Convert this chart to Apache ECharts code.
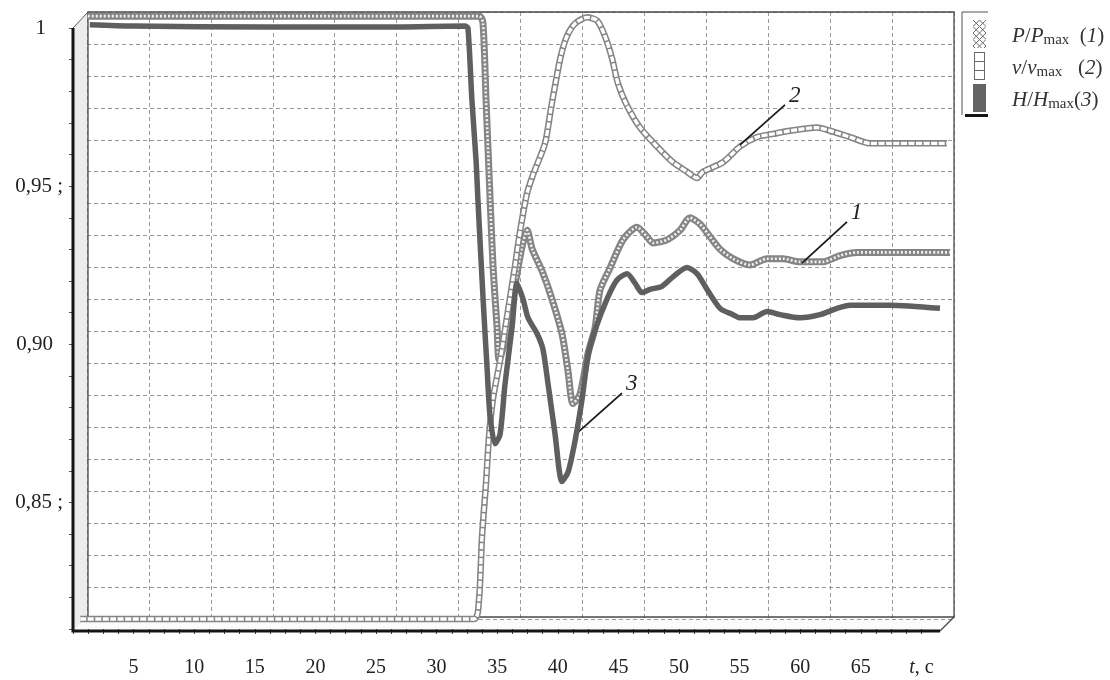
<!DOCTYPE html>
<html><head><meta charset="utf-8">
<script src="https://cdn.jsdelivr.net/npm/echarts@6/dist/echarts.min.js"></script>
<style>html,body{margin:0;padding:0;background:#fff}#c{width:1110px;height:680px}</style>
</head><body><div id="c"></div>
<script>
// ---------- data ----------
// P/Pmax (1) – back ribbon
const timeP = [0.2, 10, 20, 32.5, 32.8, 33.06, 33.39, 33.64, 33.97, 34.13, 34.63, 35.46, 36.04, 36.45, 36.87, 37.69, 38.51, 39.33, 39.83, 40.23, 40.81, 41.47, 42.05, 42.46, 43.28, 44.36, 45.51, 46.34, 46.83, 47.99, 49.06, 49.88, 50.71, 51.53, 52.36, 53.43, 54.83, 56.23, 57.56, 58.96, 60.86, 62.26, 63.66, 64.98, 71.34];
const valP  = [0.999, 0.999, 0.999, 0.999, 0.997, 0.972, 0.941, 0.919, 0.900, 0.890, 0.896, 0.914, 0.926, 0.931, 0.925, 0.918, 0.909, 0.898, 0.886, 0.876, 0.879, 0.892, 0.900, 0.912, 0.919, 0.928, 0.932, 0.929, 0.927, 0.928, 0.931, 0.935, 0.933, 0.929, 0.925, 0.922, 0.920, 0.922, 0.922, 0.921, 0.921, 0.923, 0.924, 0.924, 0.924];
// v/vmax (2) – middle ribbon (lies on the floor before the event)
const timeV = [0.2, 10, 20, 32.68, 33.09, 33.34, 33.67, 33.92, 34.25, 34.83, 35.49, 36.06, 36.48, 37.05, 37.55, 38.54, 39.03, 39.45, 39.86, 40.35, 41.01, 42.01, 42.83, 43.49, 44.07, 44.56, 45.3, 46.38, 47.78, 49.1, 50.25, 51.08, 51.58, 53.23, 54.63, 56.04, 57.36, 58.76, 60.98, 62.06, 63.71, 65.36, 67.01, 71.7];
const valV  = [0.81, 0.81, 0.81, 0.81, 0.816, 0.836, 0.853, 0.868, 0.880, 0.892, 0.908, 0.922, 0.933, 0.945, 0.951, 0.961, 0.972, 0.981, 0.989, 0.995, 0.999, 1.001, 1.0, 0.995, 0.988, 0.980, 0.973, 0.966, 0.960, 0.955, 0.952, 0.950, 0.952, 0.955, 0.960, 0.963, 0.964, 0.965, 0.966, 0.965, 0.963, 0.961, 0.961, 0.961];
// H/Hmax (3) – front ribbon
const timeH = [1.6, 5.2, 16, 26.8, 32.56, 32.8, 33.13, 33.47, 33.63, 34.05, 34.38, 34.62, 35.04, 35.45, 35.86, 36.44, 36.85, 37.34, 37.76, 38.5, 38.99, 39.41, 39.99, 40.56, 41.06, 41.64, 42.21, 42.71, 43.28, 44.28, 45.1, 45.93, 46.59, 47.16, 47.82, 48.81, 49.72, 50.87, 51.7, 52.53, 53.6, 54.67, 55.25, 56.32, 57.48, 58.55, 60.2, 61.85, 63.25, 64.33, 67.62, 71.75];
const valH  = [1.001, 1.0006, 1.0003, 1.0003, 1.0006, 1.0, 0.977, 0.958, 0.945, 0.914, 0.892, 0.877, 0.868, 0.871, 0.887, 0.905, 0.919, 0.914, 0.908, 0.903, 0.898, 0.887, 0.871, 0.856, 0.859, 0.869, 0.882, 0.896, 0.904, 0.914, 0.920, 0.922, 0.919, 0.916, 0.917, 0.918, 0.921, 0.924, 0.922, 0.917, 0.911, 0.909, 0.908, 0.908, 0.910, 0.909, 0.908, 0.909, 0.911, 0.912, 0.912, 0.911];
// leader lines for the curve numbers: [t1, v1, t2, v2]
const leaderP = [59.12, 0.9206, 62.84, 0.9337];
const leaderV = [54.63, 0.9605, 58.34, 0.9732];
const leaderH = [41.80, 0.8714, 45.51, 0.8841];
// tick labels
const xLabelValues = [5, 10, 15, 20, 25, 30, 35, 40, 45, 50, 55, 60, 65];
const xLabels = ['5', '10', '15', '20', '25', '30', '35', '40', '45', '50', '55', '60', '65'];
const yLabelValues = [1, 0.95, 0.90, 0.85];
const yLabels = ['1', '0,95 ;', '0,90', '0,85 ;'];

// ---------- layout ----------
const FR = {l: 73, t: 28, r: 940, b: 631};   // front frame
const BK = {l: 88, t: 12, r: 954, b: 617};   // back wall
const SX = 12.12, SY = 3150;                  // px per second, px per unit
function depthGrid(d) {
  const x0 = 70.4 + 15 * d, y1 = 28 - 15 * d;
  return {left: x0, width: 72 * SX, top: y1 - 0.003 * SY, height: 0.203 * SY, outerBoundsMode: 'none'};
}
const zip = (a, b) => a.map((t, i) => [t, b[i]]);
const serif = 'Liberation Serif, Times New Roman, serif';

function icon(kind) {
  const c = document.createElement('canvas'); c.width = 13; c.height = 28;
  const g = c.getContext('2d');
  g.fillStyle = '#fff'; g.fillRect(0, 0, 13, 28);
  g.strokeStyle = '#6a6a6a'; g.lineWidth = 1;
  if (kind === 'P') {
    for (let y = 0; y < 28; y += 6.5) {
      for (let x = 0; x < 13; x += 6.5) {
        g.beginPath(); g.moveTo(x, y); g.lineTo(x + 6.5, y + 6.5);
        g.moveTo(x + 6.5, y); g.lineTo(x, y + 6.5); g.stroke();
      }
    }
  } else if (kind === 'v') {
    g.strokeRect(1.5, 0.5, 10, 27);
    g.beginPath(); g.moveTo(1.5, 9.5); g.lineTo(11.5, 9.5); g.moveTo(1.5, 18.5); g.lineTo(11.5, 18.5); g.stroke();
  } else {
    g.fillStyle = '#646464'; g.fillRect(0, 0, 13, 28);
  }
  return 'image://' + c.toDataURL();
}

function leader(arr, text) {
  return {
    silent: true, symbol: ['none', 'none'], animation: false,
    lineStyle: {color: '#1a1a1a', width: 1.8, type: 'solid'},
    label: {show: true, position: 'end', distance: 13, formatter: text,
            fontFamily: serif, fontStyle: 'italic', fontSize: 23, color: '#222'},
    data: [[{coord: [arr[0], arr[1]]}, {coord: [arr[2], arr[3]]}]]
  };
}

const hidden = {show: false};
const chart = echarts.init(document.getElementById('c'), null, {renderer: 'canvas'});

const frameLine = (pts, w, col, z) => ({type: 'polyline', z: z, silent: true,
  shape: {points: pts}, style: {stroke: col, lineWidth: w, fill: null}});

chart.setOption({
  animation: false,
  backgroundColor: '#fff',
  grid: [
    {left: BK.l - 1, top: BK.t, width: BK.r - BK.l + 1, height: 607, outerBoundsMode: 'none'}, // back wall gridlines
    {left: FR.l, top: FR.t, width: 70 * SX, height: 601, outerBoundsMode: 'none'},              // front axes
    depthGrid(1), depthGrid(0.5), depthGrid(0)
  ],
  xAxis: [
    {gridIndex: 0, type: 'value', min: 0, max: 70, interval: 5,
     axisLine: hidden, axisTick: hidden, axisLabel: hidden,
     splitLine: {show: true, lineStyle: {color: '#9a9a9a', width: 1, type: [4, 3]}}},
    {gridIndex: 1, type: 'value', min: 0, max: 70, interval: 1.25,
     axisLine: hidden, splitLine: hidden,
     axisTick: {show: true, length: 5, lineStyle: {color: '#444', width: 1}},
     axisLabel: {show: true, margin: 29, color: '#222', fontFamily: serif, fontSize: 20,
       formatter: v => {
         if (Math.abs(v - 70) < 1e-6) return '{it|t}{rm|, c}';
         const k = xLabelValues.findIndex(x => Math.abs(x - v) < 1e-6);
         return k < 0 ? '' : '{rm|' + xLabels[k] + '}';
       },
       rich: {it: {fontFamily: serif, fontStyle: 'italic', fontSize: 20, color: '#222'},
              rm: {fontFamily: serif, fontSize: 20, color: '#222'}}}},
    {gridIndex: 2, type: 'value', min: 0, max: 72, show: false},
    {gridIndex: 3, type: 'value', min: 0, max: 72, show: false},
    {gridIndex: 4, type: 'value', min: 0, max: 72, show: false}
  ],
  yAxis: [
    {gridIndex: 0, type: 'value', min: 0.81, max: 1.0, interval: 0.01,
     axisLine: hidden, axisTick: hidden, axisLabel: hidden,
     splitLine: {show: true, lineStyle: {color: '#9a9a9a', width: 1, type: [4, 3]}}},
    {gridIndex: 1, type: 'value', min: 0.81, max: 1.0, interval: 0.01,
     axisLine: hidden, splitLine: hidden,
     axisTick: {show: true, length: 4, lineStyle: {color: '#555', width: 1}},
     axisLabel: {show: true, margin: 10, color: '#222',
       formatter: v => {
         const k = yLabelValues.findIndex(x => Math.abs(x - v) < 1e-6);
         if (k < 0) return '';
         const s = yLabels[k];
         if (s.indexOf(';') >= 0) return '{n|' + s + '}';
         return '{n|' + s + '}' + (s.length === 1 ? '{p1|}' : '{p2|}');
       },
       rich: {n: {fontFamily: serif, fontSize: 21, color: '#222'},
              p1: {width: 17}, p2: {width: 10}}}},
    {gridIndex: 2, type: 'value', min: 0.80, max: 1.003, show: false},
    {gridIndex: 3, type: 'value', min: 0.80, max: 1.003, show: false},
    {gridIndex: 4, type: 'value', min: 0.80, max: 1.003, show: false}
  ],
  legend: {
    show: true, orient: 'vertical', left: 968, top: 15, itemWidth: 13, itemHeight: 28, itemGap: 4,
    selectedMode: false, inactiveColor: '#fff',
    data: [{name: 'P', icon: icon('P')}, {name: 'v', icon: icon('v')}, {name: 'H', icon: icon('H')}],
    formatter: name => {
      if (name === 'P') return '{g|}{i|P}{n|/}{i|P}{s|max}{n|  (}{i|1}{n|)}';
      if (name === 'v') return '{g|}{i|v}{n|/}{i|v}{s|max}{n|   (}{i|2}{n|)}';
      return '{g|}{i|H}{n|/}{i|H}{s|max}{n|(}{i|3}{n|)}';
    },
    textStyle: {
      rich: {
        g: {width: 21},
        i: {fontFamily: serif, fontStyle: 'italic', fontSize: 21, color: '#333', padding: [4, 0, 0, 0]},
        n: {fontFamily: serif, fontSize: 21, color: '#333', padding: [4, 0, 0, 0]},
        s: {fontFamily: serif, fontSize: 15, color: '#333', padding: [12, 0, 0, 0]}
      }
    }
  },
  graphic: [
    {type: 'polygon', z: -5, silent: true, shape: {points: [[FR.l, FR.t], [BK.l, BK.t], [BK.l, BK.b], [FR.l, FR.b]]},
     style: {fill: '#ececec', stroke: null}},
    {type: 'polygon', z: -5, silent: true, shape: {points: [[FR.l, FR.b], [BK.l, BK.b], [BK.r, BK.b], [FR.r, FR.b]]},
     style: {fill: '#fbfbfb', stroke: null}},
    frameLine([[BK.l, BK.b], [BK.l, BK.t], [BK.r, BK.t], [BK.r, BK.b], [BK.l, BK.b]], 1.3, '#4a4a4a', 1),
    frameLine([[FR.l, FR.t], [BK.l, BK.t]], 1, '#555', 1),
    frameLine([[BK.r, BK.b], [FR.r, FR.b]], 1.3, '#444', 1),
    frameLine([[FR.l, FR.t], [FR.l, FR.b], [FR.r, FR.b]], 3, '#151515', 1),
    frameLine([[962, 12], [962, 115]], 1, '#555', 1),
    frameLine([[962, 12], [988, 12]], 1, '#555', 1),
    frameLine([[965, 115.5], [988, 115.5]], 3, '#151515', 1)
  ],
  series: [
    {name: 'P', type: 'line', xAxisIndex: 2, yAxisIndex: 2, data: zip(timeP, valP), clip: false,
     showSymbol: false, smooth: 0.25, color: '#8a8a8a', z: 3,
     lineStyle: {color: '#858585', width: 7, join: 'round'}, markLine: leader(leaderP, '1')},
    {type: 'line', xAxisIndex: 2, yAxisIndex: 2, data: zip(timeP, valP), clip: false,
     showSymbol: false, smooth: 0.25, silent: true, z: 3,
     lineStyle: {color: '#f2f2f2', width: 2.6, type: [2, 2]}},
    {name: 'v', type: 'line', xAxisIndex: 3, yAxisIndex: 3, data: zip(timeV, valV), clip: false,
     showSymbol: false, smooth: 0.25, color: '#8a8a8a', z: 4,
     lineStyle: {color: '#858585', width: 6.5, join: 'round'}, markLine: leader(leaderV, '2')},
    {type: 'line', xAxisIndex: 3, yAxisIndex: 3, data: zip(timeV, valV), clip: false,
     showSymbol: false, smooth: 0.25, silent: true, z: 4,
     lineStyle: {color: '#ffffff', width: 3.4, type: [6, 1.5]}},
    {name: 'H', type: 'line', xAxisIndex: 4, yAxisIndex: 4, data: zip(timeH, valH), clip: false,
     showSymbol: false, smooth: 0.25, color: '#646464', z: 5,
     lineStyle: {color: '#5f5f5f', width: 5.5, join: 'round'}, markLine: leader(leaderH, '3')}
  ]
});
</script>
</body></html>
